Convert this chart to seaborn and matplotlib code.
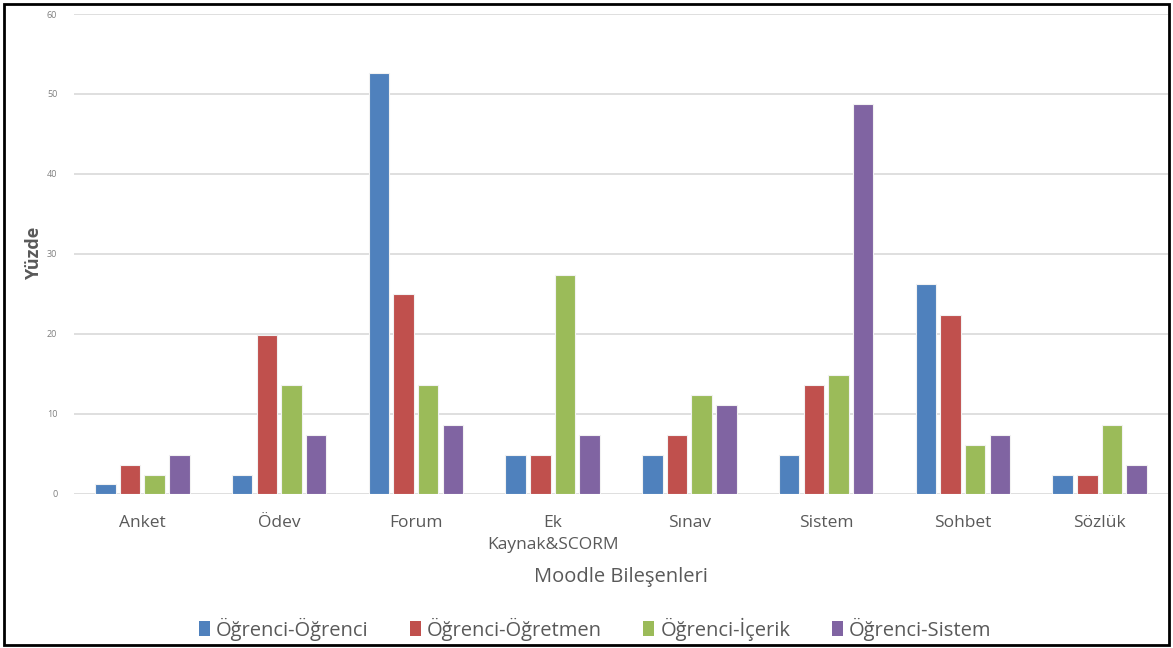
import matplotlib
matplotlib.use("Agg")
import matplotlib.pyplot as plt
import seaborn as sns
import pandas as pd
from matplotlib.patches import Rectangle, Patch

categories = ["Anket", "Ödev", "Forum", "Ek\nKaynak&SCORM", "Sınav", "Sistem", "Sohbet", "Sözlük"]
series_names = ["Öğrenci-Öğrenci", "Öğrenci-Öğretmen", "Öğrenci-İçerik", "Öğrenci-Sistem"]
ogrenci_ogrenci = [1.2, 2.4, 52.6, 4.8, 4.8, 4.8, 26.2, 2.4]
ogrenci_ogretmen = [3.6, 19.8, 25.0, 4.8, 7.3, 13.6, 22.4, 2.4]
ogrenci_icerik = [2.4, 13.6, 13.6, 27.4, 12.4, 14.8, 6.1, 8.6]
ogrenci_sistem = [4.8, 7.3, 8.6, 7.3, 11.1, 48.8, 7.3, 3.6]
y_ticks = [0, 10, 20, 30, 40, 50, 60]

colors = ["#4F81BD", "#C0504D", "#9BBB59", "#8064A2"]

rows = []
for name, vals in zip(series_names, [ogrenci_ogrenci, ogrenci_ogretmen, ogrenci_icerik, ogrenci_sistem]):
    for cat, v in zip(categories, vals):
        rows.append({"Bileşen": cat, "Seri": name, "Yüzde": v})
df = pd.DataFrame(rows)

sns.set_theme(style="white")
plt.rcParams["font.family"] = ["Open Sans", "DejaVu Sans"]

fig = plt.figure(figsize=(11.73, 6.48), dpi=100)
ax = fig.add_axes([74 / 1173, 1 - 493.7 / 648, (1168 - 74) / 1173, (493.7 - 14) / 648])

sns.barplot(data=df, x="Bileşen", y="Yüzde", hue="Seri", order=categories,
            hue_order=series_names, palette=colors, width=0.72, gap=0.17,
            edgecolor="#f2f2f2", linewidth=0.8, saturation=1, ax=ax, legend=False)

ax.set_ylim(0, 60)
ax.set_yticks(y_ticks)
ax.set_yticklabels([str(t) for t in y_ticks], fontsize=6.5, color="#7f7f7f")
ax.grid(axis="y", color="#d9d9d9", linewidth=1.2)
ax.set_axisbelow(True)
for s in ax.spines.values():
    s.set_visible(False)
ax.tick_params(axis="y", length=0, pad=12)
ax.tick_params(axis="x", length=0, pad=15, labelsize=12.5, labelcolor="#595959")
for lbl in ax.get_xticklabels():
    lbl.set_linespacing(1.55)

ax.set_xlabel("Moodle Bileşenleri", fontsize=14.5, color="#595959", labelpad=10)
ax.set_ylabel("Yüzde", fontsize=13, color="#595959", fontweight="bold", labelpad=3)

handles = [Patch(facecolor=c, edgecolor="none") for c in colors]
fig.legend(handles, series_names, loc="center", bbox_to_anchor=(595 / 1173, 1 - 629 / 648),
           ncol=4, frameon=False, fontsize=14.5, handlelength=0.55, handleheight=0.75,
           handletextpad=0.3, columnspacing=2.05, labelcolor="#595959")

fig.patches.append(Rectangle((4 / 1173, 3 / 648), 1165 / 1173, 641 / 648, transform=fig.transFigure,
                             fill=False, edgecolor="black", linewidth=2))

fig.savefig("out.png", dpi=100)
